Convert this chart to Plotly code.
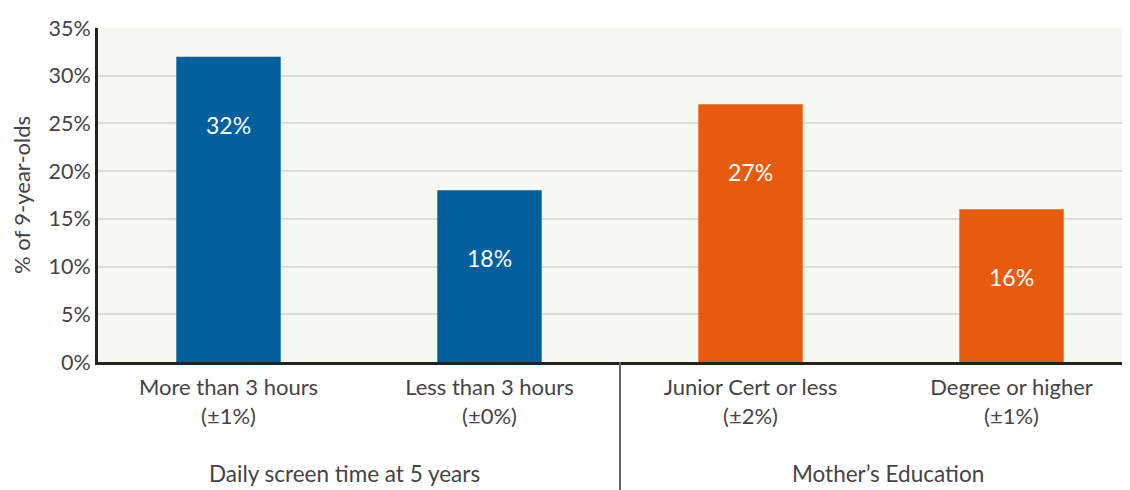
import plotly.graph_objects as go

categories = ["More than 3 hours", "Less than 3 hours", "Junior Cert or less", "Degree or higher"]
margins_err = ["(±1%)", "(±0%)", "(±2%)", "(±1%)"]
values = [32, 18, 27, 16]
colors = ["#00609c", "#00609c", "#e85b0f", "#e85b0f"]
groups = ["Daily screen time at 5 years", "Mother’s Education"]
group_centers = [0.5, 2.5]
group_xshifts = [-15, 7]
y_ticks = [0, 5, 10, 15, 20, 25, 30, 35]

FONT = "Source Sans Pro, Lato, Noto Sans, sans-serif"
TXT = "#444444"

xs = list(range(len(categories)))
fig = go.Figure()
fig.add_trace(go.Bar(
    x=xs, y=values, marker_color=colors, width=0.40,
    marker_line_width=0, hoverinfo="skip"))

for x, v in zip(xs, values):
    fig.add_annotation(x=x, y=v, text=f"{v}%", showarrow=False, yshift=-68,
                       font=dict(family=FONT, size=23, color="white"))

for g, c, s in zip(groups, group_centers, group_xshifts):
    fig.add_annotation(x=c, y=0, yref="paper", text=g, showarrow=False,
                       yshift=-127, xshift=s, font=dict(family=FONT, size=22.5, color=TXT))

fig.add_shape(type="line", xref="x", yref="paper", x0=1.5, x1=1.5, y0=0, y1=-0.45,
              line=dict(color="#666666", width=2), layer="above")

fig.update_layout(
    width=1122, height=482,
    margin=dict(l=90, r=0, t=20, b=128, autoexpand=False),
    paper_bgcolor="white", plot_bgcolor="#f6f8f2",
    showlegend=False,
    font=dict(family=FONT, size=21, color=TXT),
)
fig.update_xaxes(
    range=[-0.5, 3.454], tickvals=xs,
    ticktext=[f"{c}<br>{m}" for c, m in zip(categories, margins_err)],
    tickfont=dict(family=FONT, size=22, color=TXT),
    showline=True, linecolor="#222222", linewidth=3, showgrid=False,
    ticks="", ticklen=0, automargin=False, ticklabelstandoff=4,
)
fig.update_yaxes(
    range=[0, 35], tickvals=y_ticks, ticktext=[f"{t}%" for t in y_ticks],
    tickfont=dict(family=FONT, size=21.5, color=TXT),
    showline=True, linecolor="#222222", linewidth=3,
    showgrid=True, gridcolor="#dcdcd8", gridwidth=2,
    zeroline=False, automargin=False,
    title=dict(text="% of 9-year-olds", font=dict(family=FONT, size=22, color=TXT), standoff=14),
)
fig.write_html("out.html")
